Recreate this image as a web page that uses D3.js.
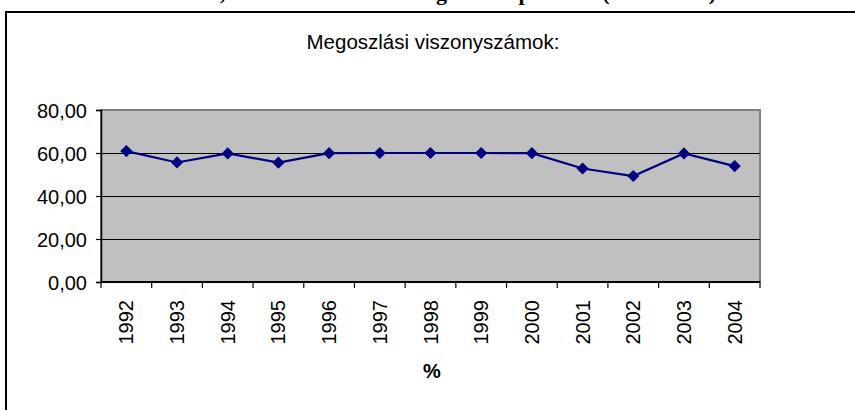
<!DOCTYPE html>
<html>
<head>
<meta charset="utf-8">
<script src="https://cdn.jsdelivr.net/npm/d3@7"></script>
<style>
  body { margin: 0; background: #fff; }
  svg { display: block; }
</style>
</head>
<body>
<div id="chart"></div>
<script>
const years = ['1992', '1993', '1994', '1995', '1996', '1997', '1998', '1999', '2000', '2001', '2002', '2003', '2004'];
const values = [60.9, 55.6, 59.8, 55.5, 59.9, 60.0, 60.0, 60.0, 59.9, 52.8, 49.3, 59.8, 53.9];
const yTicks = [0, 20, 40, 60, 80];
const chartTitle = 'Megoszlási viszonyszámok:';
const axisTitle = '%';
const pageTitle = '4. ábra, A munkanélküliek megoszlása pénzben (1992–2004)';

const outerWidth = 855;
const outerHeight = 410;
const margin = { top: 110, right: 95, bottom: 128, left: 101 };
const width = outerWidth - margin.left - margin.right;
const height = outerHeight - margin.top - margin.bottom;

const svg = d3.select('#chart')
  .append('svg')
  .attr('width', outerWidth)
  .attr('height', outerHeight)
  .style('font-family', 'Arial, "Liberation Sans", sans-serif');

// page heading, only its lower edge shows at the top of the picture
svg.append('text')
  .attr('x', 716)
  .attr('y', 0)
  .attr('text-anchor', 'end')
  .style('font-family', '"Times New Roman", "Liberation Serif", serif')
  .style('font-weight', 'bold')
  .style('font-size', '22px')
  .text(pageTitle);

// chart frame
svg.append('path')
  .attr('d', `M6,${outerHeight + 5}V12H${outerWidth + 5}`)
  .attr('fill', 'none')
  .attr('stroke', '#000')
  .attr('stroke-width', 2);

svg.append('text')
  .attr('x', 433)
  .attr('y', 49)
  .attr('text-anchor', 'middle')
  .style('font-size', '20.5px')
  .text(chartTitle);

const g = svg.append('g')
  .attr('transform', `translate(${margin.left}, ${margin.top})`);

// Init Scales
const x = d3.scaleBand().domain(years).range([0, width]);
const y = d3.scaleLinear().domain([0, 80]).range([height, 0]);

// plot area
g.append('rect')
  .attr('width', width)
  .attr('height', height)
  .attr('fill', '#c0c0c0')
  .attr('stroke', '#808080')
  .attr('stroke-width', 2);

// gridlines
g.selectAll('.grid')
  .data(yTicks.filter(d => d > 0 && d < 80))
  .join('line')
  .attr('class', 'grid')
  .attr('x1', 0)
  .attr('x2', width)
  .attr('y1', d => Math.round(y(d)) + 0.5)
  .attr('y2', d => Math.round(y(d)) + 0.5)
  .attr('stroke', '#000')
  .attr('stroke-width', 1.2);

// Y axis
const yAxis = d3.axisLeft(y)
  .tickValues(yTicks)
  .tickSize(5)
  .tickPadding(9)
  .tickFormat(d => d3.format('.2f')(d).replace('.', ','));

const gy = g.append('g').call(yAxis);
gy.select('.domain').attr('stroke', '#000').attr('stroke-width', 1.5);
gy.selectAll('.tick line').attr('stroke', '#000').attr('stroke-width', 1.2);
gy.selectAll('.tick text')
  .attr('fill', '#000')
  .style('font-size', '20px')
  .style('font-family', 'Arial, "Liberation Sans", sans-serif')
  .attr('dy', '0.36em');

// X axis with ticks between categories
const gx = g.append('g').attr('transform', `translate(0, ${height})`);
gx.append('line')
  .attr('x1', 0)
  .attr('x2', width)
  .attr('stroke', '#000')
  .attr('stroke-width', 2);
gx.selectAll('.xtick')
  .data(years.concat(['end']))
  .join('line')
  .attr('class', 'xtick')
  .attr('x1', (d, i) => i < years.length ? x(d) : width)
  .attr('x2', (d, i) => i < years.length ? x(d) : width)
  .attr('y1', 0)
  .attr('y2', 6)
  .attr('stroke', '#000')
  .attr('stroke-width', 1.2);
gx.selectAll('.xlabel')
  .data(years)
  .join('text')
  .attr('class', 'xlabel')
  .attr('transform', d => `translate(${x(d) + x.bandwidth() / 2 + 7}, 18) rotate(-90)`)
  .attr('text-anchor', 'end')
  .style('font-size', '20px')
  .text(d => d);

svg.append('text')
  .attr('x', 432)
  .attr('y', 378)
  .attr('text-anchor', 'middle')
  .style('font-size', '20px')
  .style('font-weight', 'bold')
  .text(axisTitle);

// series line
const line = d3.line()
  .x((d, i) => x(years[i]) + x.bandwidth() / 2)
  .y(d => y(d));

g.append('path')
  .datum(values)
  .attr('d', line)
  .attr('fill', 'none')
  .attr('stroke', '#000080')
  .attr('stroke-width', 2.2);

g.selectAll('.points')
  .data(values)
  .join('path')
  .attr('class', 'points')
  .attr('d', d3.symbol().type(d3.symbolDiamond2).size(95))
  .attr('fill', '#000080')
  .attr('transform', (d, i) => `translate(${x(years[i]) + x.bandwidth() / 2}, ${y(d)})`);
</script>
</body>
</html>
